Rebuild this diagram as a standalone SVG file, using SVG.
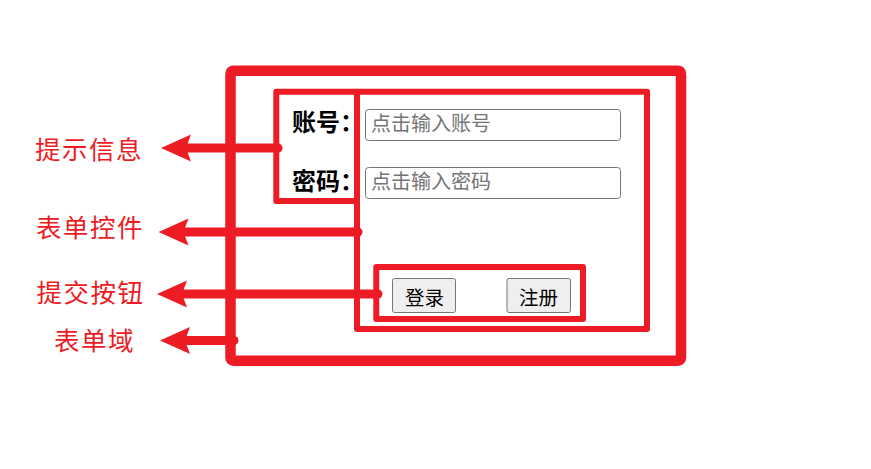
<svg xmlns="http://www.w3.org/2000/svg" width="871" height="469" viewBox="0 0 871 469">
<style>
.box{fill:none;stroke:#ed1c24;stroke-linejoin:round}
.conn{stroke:#ed1c24;stroke-width:9;stroke-linecap:round;fill:none}
.head{fill:#ed1c24}
.lbl{font-family:"Noto Sans CJK SC","Noto Sans",sans-serif;font-size:25.5px;fill:#ed1c24;letter-spacing:1.5px}
.fl{font-family:"Noto Sans CJK SC","Noto Sans",sans-serif;font-size:24px;font-weight:bold;fill:#000}
.inp{fill:#fff;stroke:#767676;stroke-width:1}
.ph{font-family:"Noto Sans CJK SC","Noto Sans",sans-serif;font-size:20px;fill:#757575}
.btn{fill:#efefef;stroke:#767676;stroke-width:1}
.bt{font-family:"Noto Sans CJK SC","Noto Sans",sans-serif;font-size:19.5px;fill:#000}
</style>
<rect width="871" height="469" fill="#fff"/>
<g id="form-domain">
<rect class="box" x="230.5" y="70.7" width="450.5" height="290" rx="3" stroke-width="10.5"/>
</g>
<g id="label-box">
<rect class="box" x="276.3" y="91.7" width="80.7" height="109.3" stroke-width="6"/>
<text class="fl" x="292" y="131">账号：</text>
<text class="fl" x="292" y="190">密码：</text>
</g>
<g id="control-box">
<rect class="box" x="357" y="91.7" width="290" height="237.3" stroke-width="6"/>
<rect class="inp" x="365.5" y="109.5" width="255" height="31" rx="3"/>
<text class="ph" x="371" y="131">点击输入账号</text>
<rect class="inp" x="365.5" y="167.5" width="255" height="31" rx="3"/>
<text class="ph" x="371" y="189">点击输入密码</text>
</g>
<g id="button-box">
<rect class="box" x="376.3" y="267" width="206.7" height="52" stroke-width="6"/>
<rect class="btn" x="392.5" y="278.5" width="63" height="34" rx="2"/>
<text class="bt" x="405" y="304.5">登录</text>
<rect class="btn" x="507" y="278.5" width="63.5" height="34" rx="2"/>
<text class="bt" x="519" y="304.5">注册</text>
</g>
<g id="connectors">
<line class="conn" x1="186" y1="148" x2="278" y2="148"/>
<polygon class="head" points="161,148 191,134.5 186,148 191,161.5"/>
<line class="conn" x1="184" y1="232" x2="358" y2="232"/>
<polygon class="head" points="158.5,232 188.5,218.5 183.5,232 188.5,245.5"/>
<line class="conn" x1="182" y1="294" x2="378" y2="294"/>
<polygon class="head" points="157,294 187,280.5 182,294 187,307.5"/>
<line class="conn" x1="185" y1="340.5" x2="234" y2="340.5"/>
<polygon class="head" points="160,340.5 190,327 185,340.5 190,354"/>
</g>
<g id="labels">
<text class="lbl" x="35" y="158.5">提示信息</text>
<text class="lbl" x="36" y="237">表单控件</text>
<text class="lbl" x="36.5" y="302">提交按钮</text>
<text class="lbl" x="54" y="350">表单域</text>
</g>
</svg>
